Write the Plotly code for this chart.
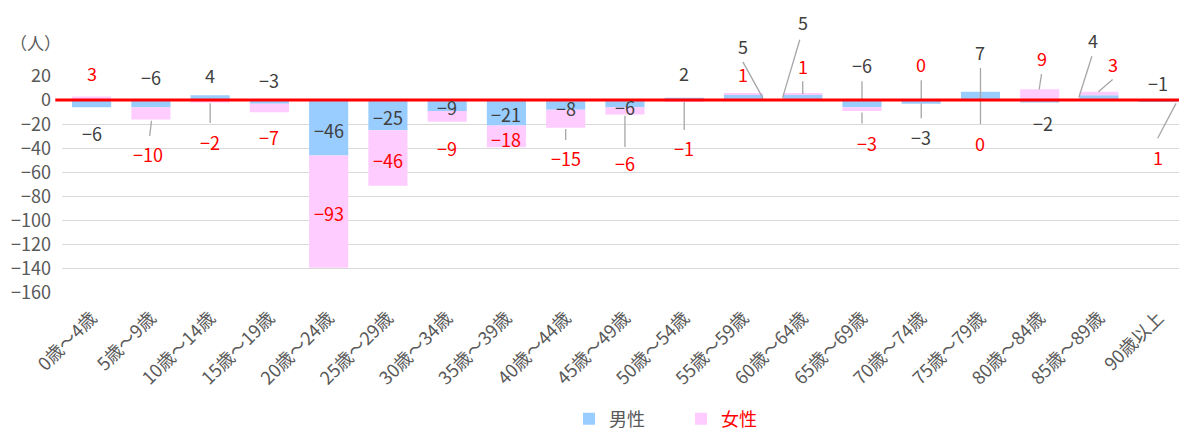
import plotly.graph_objects as go

categories = ["0歳～4歳", "5歳～9歳", "10歳～14歳", "15歳～19歳", "20歳～24歳", "25歳～29歳",
              "30歳～34歳", "35歳～39歳", "40歳～44歳", "45歳～49歳", "50歳～54歳", "55歳～59歳",
              "60歳～64歳", "65歳～69歳", "70歳～74歳", "75歳～79歳", "80歳～84歳", "85歳～89歳",
              "90歳以上"]
male = [-6, -6, 4, -3, -46, -25, -9, -21, -8, -6, 2, 5, 5, -6, -3, 7, -2, 4, -1]
female = [3, -10, -2, -7, -93, -46, -9, -18, -15, -6, -1, 1, 1, -3, 0, 0, 9, 3, 1]

# label placement (category offset, y position in axis units) -- layout only
male_label_pos = [(0, -27.3), (0, 19), (0, 20.7), (0, 16.5), (0, -25), (0, -14), (0, -5.8),
                  (0, -11.3), (0, -6.6), (0, -5.8), (0, 22.3), (0, 44.6), (0, 64.5), (0, 28.9),
                  (0, -30.6), (0, 39.7), (0.05, -19), (-0.1, 49.6), (0, 14)]
female_label_pos = [(0, 22.3), (-0.05, -44.6), (0, -34.7), (0, -30.6), (0, -93.4), (0, -49.6),
                    (0, -39.7), (0, -32.6), (0, -47.9), (0, -52), (0, -39.7), (0, 21.5), (0, 28),
                    (0.08, -35.5), (0, 29.7), (0, -35.5), (0.03, 34.7), (0.23, 29.7), (0, -47)]
# leader lines: (x0, y0, x1, y1) in axis units
leaders = [(1.01, -17.1, 0.98, -29.8), (2.0, -2.5, 2.0, -19), (8.0, -24, 8.0, -33),
           (9.0, -13.2, 9.0, -38.8), (10.0, -1.4, 10.0, -24.8), (10.99, 31.7, 11.33, 1.4),
           (11.95, 50.1, 11.66, 1.9), (12.0, 15.7, 12.0, 5), (13.0, 15.7, 13.0, 0),
           (13.0, -10.2, 13.0, -19.3), (14.0, 16.5, 14.0, 0.5), (14.0, -2.7, 14.0, -15.1),
           (15.0, 26.7, 15.0, -19.8), (16.03, 21.5, 15.99, 8.8), (16.88, 36.4, 16.66, 2.2),
           (17.23, 17.1, 16.99, 6.9), (17.99, -31.6, 18.30, -2.7)]

FONT = "Noto Sans CJK JP"
GRAY = "#595959"
DARK = "#404040"
RED = "#FF0000"

W, H = 1179, 432
L, R, T, B = 62, 0, 76, 139
pw, ph = W - L - R, H - T - B
XR = [-0.5, 18.35]
YR = [-160, 20]


def px_(x):
    return (x - XR[0]) / (XR[1] - XR[0])


def py_(y):
    return (y - YR[0]) / (YR[1] - YR[0])


def fmt(v):
    return ("\u2212" + str(-v)) if v < 0 else str(v)


fig = go.Figure()
fig.add_trace(go.Bar(x=list(range(len(categories))), y=male, name="男性",
                     marker=dict(color="#99CCFF", line=dict(width=0))))
fig.add_trace(go.Bar(x=list(range(len(categories))), y=female,
                     name="<span style='color:#FF0000'>女性</span>",
                     marker=dict(color="#FFCCFF", line=dict(width=0))))

annotations = []
for vals, pos, col in ((male, male_label_pos, DARK), (female, female_label_pos, RED)):
    for i, v in enumerate(vals):
        dx, yy = pos[i]
        annotations.append(dict(x=px_(i + dx), y=py_(yy), xref="paper", yref="paper",
                                xanchor="center", yanchor="middle", text=fmt(v),
                                showarrow=False, borderpad=0,
                                font=dict(family=FONT, size=18, color=col)))
annotations.append(dict(x=(35 - L) / pw, y=((H - B) - 42) / ph, xref="paper", yref="paper",
                        xanchor="center", yanchor="middle", text="（人）", showarrow=False,
                        font=dict(family=FONT, size=17, color=GRAY)))

shapes = []
for (x0, y0, x1, y1) in leaders:
    shapes.append(dict(type="line", xref="paper", yref="paper", x0=px_(x0), y0=py_(y0),
                       x1=px_(x1), y1=py_(y1),
                       line=dict(color="#A6A6A6", width=1.3), layer="above"))
shapes.append(dict(type="line", xref="paper", yref="y", x0=-0.006, x1=1, y0=0, y1=0,
                   line=dict(color=RED, width=3), layer="above"))

fig.update_layout(
    width=W, height=H,
    margin=dict(l=L, r=R, t=T, b=B, autoexpand=False),
    barmode="relative", bargap=0.34,
    paper_bgcolor="white", plot_bgcolor="white",
    font=dict(family=FONT, color=GRAY),
    xaxis=dict(tickmode="array", tickvals=list(range(len(categories))), ticktext=categories,
               range=XR, tickangle=-45, showgrid=False, zeroline=False,
               showline=False, ticks="", tickfont=dict(family=FONT, size=18, color=GRAY),
               automargin=False, ticklabelstandoff=10),
    yaxis=dict(range=YR, dtick=20, tick0=0, showgrid=True, gridcolor="#D9D9D9",
               gridwidth=1.3, zeroline=False, showline=False, ticks="",
               tickfont=dict(family=FONT, size=18, color=GRAY), automargin=False,
               ticklabelstandoff=10),
    showlegend=True,
    legend=dict(orientation="h", x=(569 - L) / pw, xanchor="left",
                y=(H - B - 419) / ph, yanchor="middle",
                font=dict(family=FONT, size=18, color=GRAY), traceorder="normal",
                entrywidth=67, entrywidthmode="pixels"),
    annotations=annotations, shapes=shapes,
)

fig.write_html("out.html", config={"displayModeBar": False},
               post_script="document.body.style.margin='0';document.body.style.overflow='hidden';")
